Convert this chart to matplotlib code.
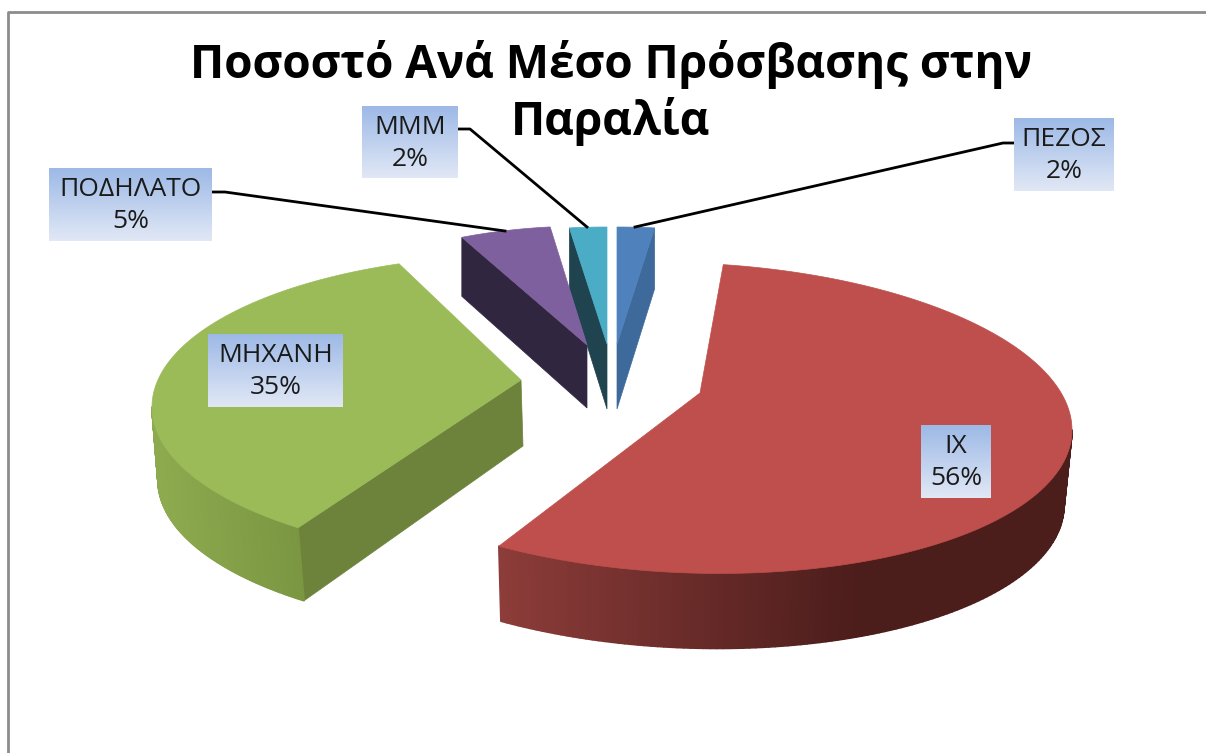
import numpy as np
import matplotlib
matplotlib.use("Agg")
import matplotlib.pyplot as plt
from matplotlib.collections import PolyCollection
from matplotlib.colors import LinearSegmentedColormap, to_rgb

# ---- data ----
categories = ["ΠΕΖΟΣ", "ΙΧ", "ΜΗΧΑΝΗ", "ΠΟΔΗΛΑΤΟ", "ΜΜΜ"]
values = [2, 56, 35, 5, 2]
title_lines = ["Ποσοστό Ανά Μέσο Πρόσβασης στην", "Παραλία"]

# ---- style / geometry of each exploded slice ----
W, H = 1206, 753
plt.rcParams["font.family"] = ["Open Sans", "Noto Sans", "DejaVu Sans"]
slices = {
    "ΠΕΖΟΣ":   dict(ax=617, ay=344, cx=617, cy=344, rx=300, ry=117, shear=0, t0=0.0, ts=1.0, top="#4F81BD", wall="#3D6A9B", depth=65),
    "ΙΧ":      dict(ax=700, ay=393, cx=690, cy=418, rx=382, ry=155, shear=12, t0=5.0, ts=1.017, top="#BE4F4C", wall=None, depth=75),
    "ΜΗΧΑΝΗ":  dict(ax=521, ay=380, cx=524, cy=407, rx=372, ry=152, shear=0, t0=217.4, ts=0.976, top="#9BBB59", wall="#6D833B", depth=73),
    "ΠΟΔΗΛΑΤΟ": dict(ax=587, ay=345, cx=587, cy=345, rx=294, ry=119, shear=0, t0=334.8, ts=1.0, top="#7F609E", wall="#31263F", depth=63),
    "ΜΜΜ":     dict(ax=607, ay=344, cx=607, cy=344, rx=300, ry=117, shear=0, t0=352.8, ts=1.0, top="#4BACC6", wall="#1F444F", depth=65),
}
boxes = {
    "ΠΕΖΟΣ": (1014, 1114, 118, 191),
    "ΙΧ": (921, 991, 425, 498),
    "ΜΗΧΑΝΗ": (208, 343, 334, 407),
    "ΠΟΔΗΛΑΤΟ": (49, 212, 168, 241),
    "ΜΜΜ": (362, 458, 106, 178),
}
leaders = {
    "ΠΕΖΟΣ": [(1014, 143), (1003, 143), (635, 227)],
    "ΠΟΔΗΛΑΤΟ": [(212, 192), (225, 192), (505, 231)],
    "ΜΜΜ": [(458, 129), (470, 129), (587, 227)],
}

fig = plt.figure(figsize=(W / 100, H / 100), dpi=100, facecolor="white")
ax = fig.add_axes([0, 0, 1, 1])


def rim(p, t, dx=0.0, dy=0.0, shrink=0.0):
    r = np.radians(t)
    x = p["cx"] + dx + (p["rx"] - shrink) * np.sin(r)
    y = p["cy"] + dy - p["ry"] * np.cos(r) + p["shear"] * np.sin(r)
    return x, y


def mix(c1, c2, f):
    a, b = np.array(to_rgb(c1)), np.array(to_rgb(c2))
    return tuple(a + (b - a) * f)


def curved_wall(p, t1, t2, dx, shrink, grad, z):
    ts = np.linspace(t1, t2, 120)
    polys, cols = [], []
    for a, b in zip(ts[:-1], ts[1:]):
        x1, y1 = rim(p, a)
        x2, y2 = rim(p, b)
        x3, y3 = rim(p, b, dx, p["depth"], shrink)
        x4, y4 = rim(p, a, dx, p["depth"], shrink)
        polys.append([(x1, y1), (x2, y2), (x3, y3), (x4, y4)])
        cols.append(grad((x1 + x2) / 2))
    ax.add_collection(PolyCollection(polys, facecolors=cols, edgecolors=cols, linewidths=1.2, zorder=z))


# angular span of each slice comes from the values
total = sum(values)
for name, val in zip(categories, values):
    p = slices[name]
    span = val / total * 360.0
    tA = p["t0"]
    tB = p["t0"] + span * p["ts"]
    ts = np.linspace(tA, tB, 200)
    xs, ys = rim(p, ts)

    if name == "ΙΧ":
        grad = lambda x: mix("#8C3C39", "#4B1D1B", np.clip((x - 500) / 360, 0, 1))
        curved_wall(p, 90, tB, -1.3, 6.7, grad, 2)
    elif name == "ΜΗΧΑΝΗ":
        # flat inner wall, then the outer curved wall
        xe, ye = rim(p, tA)
        d = p["depth"]
        ax.fill([p["ax"], p["ax"] + 2, xe + 6, xe], [p["ay"], p["ay"] + 66, ye + d, ye],
                color=p["wall"], lw=0.5, zorder=2)
        grad = lambda x: mix("#7A9641", "#8DAA4F", np.clip((300 - x) / 140, 0, 1))
        curved_wall(p, tA, 270, 6, 0, grad, 2)
    else:
        # radial wall of the narrow slices
        tw = tB if name == "ΠΕΖΟΣ" else tA
        xe, ye = rim(p, tw)
        d = p["depth"]
        ax.fill([xe, xe, p["ax"], p["ax"]], [ye, ye + d - 4, p["ay"] + d, p["ay"]],
                color=p["wall"], lw=0.5, zorder=2)

    ax.fill(np.r_[p["ax"], xs], np.r_[p["ay"], ys], color=p["top"], lw=0.5, zorder=3)

# leader lines
for name, pts in leaders.items():
    ax.plot(*zip(*pts), color="black", lw=2.0, zorder=4, solid_joinstyle="round")

# gradient label boxes with category and percentage
cmap = LinearSegmentedColormap.from_list("lab", ["#9DB9E6", "#E1E8F6"])
grad_img = np.linspace(0, 1, 128).reshape(-1, 1)
for name, val in zip(categories, values):
    x0, x1, y0, y1 = boxes[name]
    ax.imshow(grad_img, cmap=cmap, extent=(x0, x1, y1, y0), aspect="auto", zorder=5, interpolation="bilinear")
    xm = (x0 + x1) / 2
    ax.text(xm, y0 + 21, name, ha="center", va="center", fontsize=19, color="#1a1a1a", zorder=6)
    ax.text(xm, y0 + 53, f"{val}%", ha="center", va="center", fontsize=19, color="#1a1a1a", zorder=6)

# title (two separate lines, so the short one leaves the MMM label free) and frame
for line, yc in zip(title_lines, (64, 121)):
    ax.text(611, yc, line, ha="center", va="center", fontsize=33, fontweight="bold",
            color="black", zorder=7)
ax.plot([8, 8, W + 5], [H + 5, 12, 12], color="#8C8C8C", lw=2.0, zorder=1)

ax.set_xlim(0, W)
ax.set_ylim(H, 0)
ax.axis("off")
fig.savefig("out.png", dpi=100, facecolor="white")
